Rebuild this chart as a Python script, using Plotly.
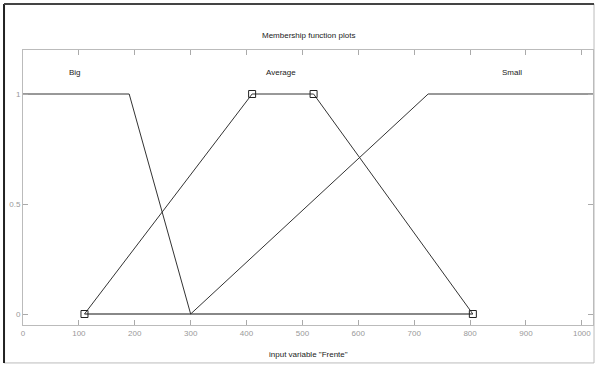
import plotly.graph_objects as go

# Membership function vertices (input variable "Frente")
big_x = [0, 190, 300]
big_y = [1, 1, 0]
avg_x = [110, 410, 520, 805]
avg_y = [0, 1, 1, 0]
small_x = [300, 725, 1020]
small_y = [0, 1, 1]
base_x = [110, 805]
base_y = [0, 0]

labels = ["Big", "Average", "Small"]
label_x = [93, 462, 875]
label_y = [1.1, 1.1, 1.1]

x_ticks = [0, 100, 200, 300, 400, 500, 600, 700, 800, 900, 1000]
y_ticks = [0, 0.5, 1]

line = dict(color="#333333", width=1)
fig = go.Figure()
fig.add_trace(go.Scatter(x=base_x, y=base_y, mode="lines", line=dict(color="#888888", width=2)))
fig.add_trace(go.Scatter(x=big_x, y=big_y, mode="lines", line=line))
fig.add_trace(go.Scatter(x=small_x, y=small_y, mode="lines", line=line))
fig.add_trace(go.Scatter(x=avg_x, y=avg_y, mode="lines", line=line))
fig.add_trace(go.Scatter(x=avg_x, y=avg_y, mode="markers",
                         marker=dict(symbol="square-open", size=7, color="#222222", line=dict(width=1))))

for t, x, y in zip(labels, label_x, label_y):
    fig.add_annotation(x=x, y=y, text=t, showarrow=False, font=dict(size=8, color="#222222"))

fig.add_annotation(x=0.5, y=1.051, xref="paper", yref="paper", text="Membership function plots",
                   showarrow=False, font=dict(size=8, color="#222222"), yanchor="middle")
fig.add_annotation(x=0.5, y=-0.109, xref="paper", yref="paper", text='input variable "Frente"',
                   showarrow=False, font=dict(size=8, color="#222222"), yanchor="middle")

# outer window frame
fig.add_shape(type="rect", xref="paper", yref="paper", x0=-0.0333, x1=1.0018, y0=-0.138, y1=1.167,
              line=dict(color="#bbbbbb", width=1))
fig.add_shape(type="line", xref="paper", yref="paper", x0=-0.0333, x1=-0.0333, y0=-0.138, y1=1.167,
              line=dict(color="#222222", width=2))
fig.add_shape(type="line", xref="paper", yref="paper", x0=-0.0333, x1=1.0018, y0=1.167, y1=1.167,
              line=dict(color="#444444", width=2))

fig.update_xaxes(range=[0, 1020], tickvals=x_ticks, ticks="inside", ticklen=5, tickcolor="#aaaaaa",
                 showline=True, linecolor="#bbbbbb", mirror="ticks", showgrid=False, zeroline=False,
                 tickfont=dict(size=8, color="#999999"), automargin=False)
fig.update_yaxes(range=[-0.05, 1.2], tickvals=y_ticks, ticktext=["0", "0.5", "1"], ticks="inside",
                 ticklen=5, tickcolor="#aaaaaa", showline=True, linecolor="#bbbbbb", mirror="ticks",
                 showgrid=False, zeroline=False, tickfont=dict(size=8, color="#999999"), automargin=False)

fig.update_layout(width=595, height=365, margin=dict(l=23, r=2, t=50, b=40, autoexpand=False),
                  paper_bgcolor="white", plot_bgcolor="white", showlegend=False,
                  font=dict(family="Liberation Sans, Arial, sans-serif"))
fig.write_html("out.html", config={"displayModeBar": False},
               post_script="document.body.style.margin='0px';")
